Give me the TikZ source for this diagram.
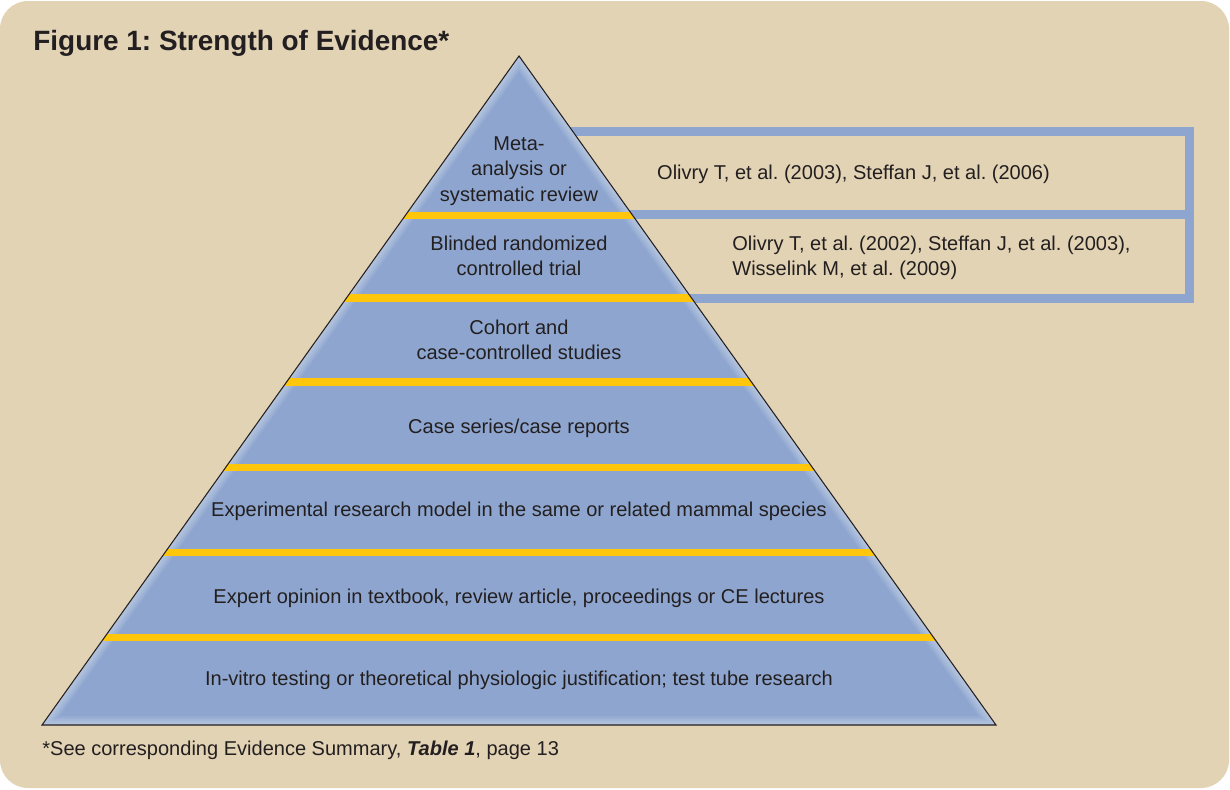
\documentclass[tikz,border=0pt]{standalone}
\usepackage{fontspec}
\setmainfont{Liberation Sans}
\usetikzlibrary{positioning}
\frenchspacing

\definecolor{bgbeige}{RGB}{227,211,181}
\definecolor{pyrblue}{RGB}{142,166,207}
\definecolor{bandyellow}{RGB}{255,198,11}
\definecolor{inkgray}{RGB}{35,31,32}

\begin{document}
\begin{tikzpicture}[x=0.02cm,y=-0.02cm]

\tikzstyle{level}=[text=inkgray,align=center,inner sep=0pt,font=\fontsize{11.4}{14.5}\selectfont]
\tikzstyle{refs}=[text=inkgray,align=left,inner sep=0pt,font=\fontsize{11.4}{14.5}\selectfont]
\tikzstyle{band}=[draw=bandyellow,line width=0.15cm]
\tikzstyle{refbox}=[draw=pyrblue,line width=0.18cm]

\useasboundingbox (0,0) rectangle (1230,789);
\fill[bgbeige,rounded corners=0.56cm] (0,1) rectangle (1229,788);

%title
\node[anchor=base west,inner sep=0pt,text=inkgray,font=\fontsize{15.9}{18}\selectfont\bfseries] (title) at (33,50) {Figure 1: Strength of Evidence*};

%corners of the pyramid
\coordinate (apex) at (519,56);
\coordinate (bl) at (42,725);
\coordinate (br) at (996,725);

%reference box, its left end runs under the pyramid
\draw[refbox] (560,131.5) -| (1189.5,298) -- (600,298);
\draw[refbox] (560,214.5) -- (1189.5,214.5);

%pyramid
\fill[pyrblue] (apex) -- (bl) -- (br) -- cycle;
\begin{scope}
\clip (apex) -- (bl) -- (br) -- cycle;
%light rim along the edges
\foreach \w in {0.06,0.12,0.18,0.24,0.30,0.36}
  \draw[white,opacity=0.07,line width=\w cm] (apex) -- (bl) -- (br) -- cycle;
%yellow dividers
\foreach \y in {215.5,298,382,467.5,552.5,637.5}
  \draw[band] (0,\y) -- (1230,\y);
\end{scope}
\draw[inkgray,line width=0.6pt] (apex) -- (bl) -- (br) -- cycle;

%levels, from the top
\node[level] (meta)    at (519,171) {Meta-\\analysis or\\systematic review};
\node[level] (rct)     at (519,256) {Blinded randomized\\controlled trial};
\node[level] (cohort)  at (519,340) {Cohort and\\case-controlled studies};
\node[level,anchor=base] (cases)   at (519,433) {Case series/case reports};
\node[level,anchor=base] (exper)   at (519,516) {Experimental research model in the same or related mammal species};
\node[level,anchor=base] (expert)  at (519,603) {Expert opinion in textbook, review article, proceedings or CE lectures};
\node[level,anchor=base] (invitro) at (519,685) {In-vitro testing or theoretical physiologic justification; test tube research};

%references
\node[refs,anchor=base] (refmeta) at (853.5,179) {Olivry T, et al. (2003), Steffan J, et al. (2006)};
\node[refs,anchor=west] (refrct)  at (732,258) {Olivry T, et al. (2002), Steffan J, et al. (2003),\\Wisselink M, et al. (2009)};

%footnote
\node[refs,anchor=base west] (note) at (42,755) {*See corresponding Evidence Summary, \textbf{\textit{Table 1}}, page 13};

\end{tikzpicture}
\end{document}
